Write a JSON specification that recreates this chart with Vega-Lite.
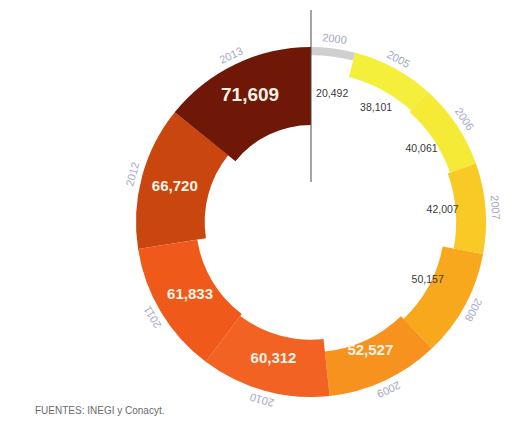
{
  "$schema": "https://vega.github.io/schema/vega-lite/v6.json",
  "width": 384,
  "height": 428,
  "autosize": "none",
  "padding": {"left": 119, "top": 8, "right": 2, "bottom": 0},
  "background": "white",
  "config": {"view": {"stroke": null}},
  "title": {
    "text": "FUENTES: INEGI y Conacyt.",
    "orient": "bottom",
    "anchor": "start",
    "frame": "group",
    "offset": -30,
    "dx": -84,
    "fontSize": 10,
    "font": "Liberation Sans",
    "fontWeight": "normal",
    "color": "#6b6b6b"
  },
  "data": {
    "values": [
      {"year": 2000, "value": 20492},
      {"year": 2005, "value": 38101},
      {"year": 2006, "value": 40061},
      {"year": 2007, "value": 42007},
      {"year": 2008, "value": 50157},
      {"year": 2009, "value": 52527},
      {"year": 2010, "value": 60312},
      {"year": 2011, "value": 61833},
      {"year": 2012, "value": 66720},
      {"year": 2013, "value": 71609}
    ]
  },
  "layer": [
    {
      "mark": {"type": "arc", "stroke": null},
      "encoding": {
        "theta": {"field": "value", "type": "quantitative", "stack": true},
        "order": {"field": "year", "type": "quantitative"},
        "radius": {
          "field": "value",
          "type": "quantitative",
          "scale": {"type": "pow", "exponent": 1.8, "domain": [0, 71609], "range": [175, 97]}
        },
        "radius2": {"value": 175},
        "color": {
          "field": "year",
          "type": "nominal",
          "scale": {
            "domain": [2000, 2005, 2006, 2007, 2008, 2009, 2010, 2011, 2012, 2013],
            "range": ["#cfcfcf", "#f3ef3a", "#f5ea35", "#f9c925", "#f8a81d", "#f7921f", "#f26223", "#ef5a1b", "#c9460f", "#6f1807"]
          },
          "legend": null
        }
      }
    },
    {
      "mark": {"type": "text", "font": "Liberation Sans", "fontWeight": "bold", "align": "center", "baseline": "middle"},
      "encoding": {
        "theta": {"field": "value", "type": "quantitative", "stack": true},
        "order": {"field": "year", "type": "quantitative"},
        "radius": {"value": 141},
        "text": {"condition": {"test": "datum.year >= 2009", "field": "value", "type": "quantitative", "format": ","}, "value": ""},
        "size": {"condition": {"test": "datum.year == 2013", "value": 19}, "value": 15},
        "color": {"value": "#fff4e6"}
      }
    },
    {
      "mark": {"type": "text", "font": "Liberation Sans", "align": "center", "baseline": "middle", "dx": 5, "dy": -2},
      "encoding": {
        "theta": {"field": "value", "type": "quantitative", "stack": true},
        "order": {"field": "year", "type": "quantitative"},
        "radius": {"value": 127},
        "text": {"condition": {"test": "datum.year <= 2008", "field": "value", "type": "quantitative", "format": ","}, "value": ""},
        "size": {"value": 10.5},
        "color": {"value": "#3a3a3a"}
      }
    },
    {
      "mark": {
        "type": "text",
        "font": "Liberation Sans",
        "align": "center",
        "baseline": "middle",
        "angle": {"expr": "scale('theta', 0.5*datum.value_start + 0.5*datum.value_end) * 180 / PI"}
      },
      "encoding": {
        "theta": {"field": "value", "type": "quantitative", "stack": true},
        "order": {"field": "year", "type": "quantitative"},
        "radius": {"value": 184},
        "text": {"field": "year", "type": "nominal"},
        "size": {"value": 11},
        "color": {"value": "#a4a9c4"}
      }
    },
    {
      "data": {"values": [{"marker": "start"}]},
      "mark": {"type": "rule", "color": "#4a4a4a", "strokeWidth": 1},
      "encoding": {
        "x": {"datum": 0, "type": "quantitative", "scale": {"domain": [-192, 192]}, "axis": null},
        "y": {"datum": 212, "type": "quantitative", "scale": {"domain": [-214, 214]}, "axis": null},
        "y2": {"datum": 40}
      }
    }
  ]
}
